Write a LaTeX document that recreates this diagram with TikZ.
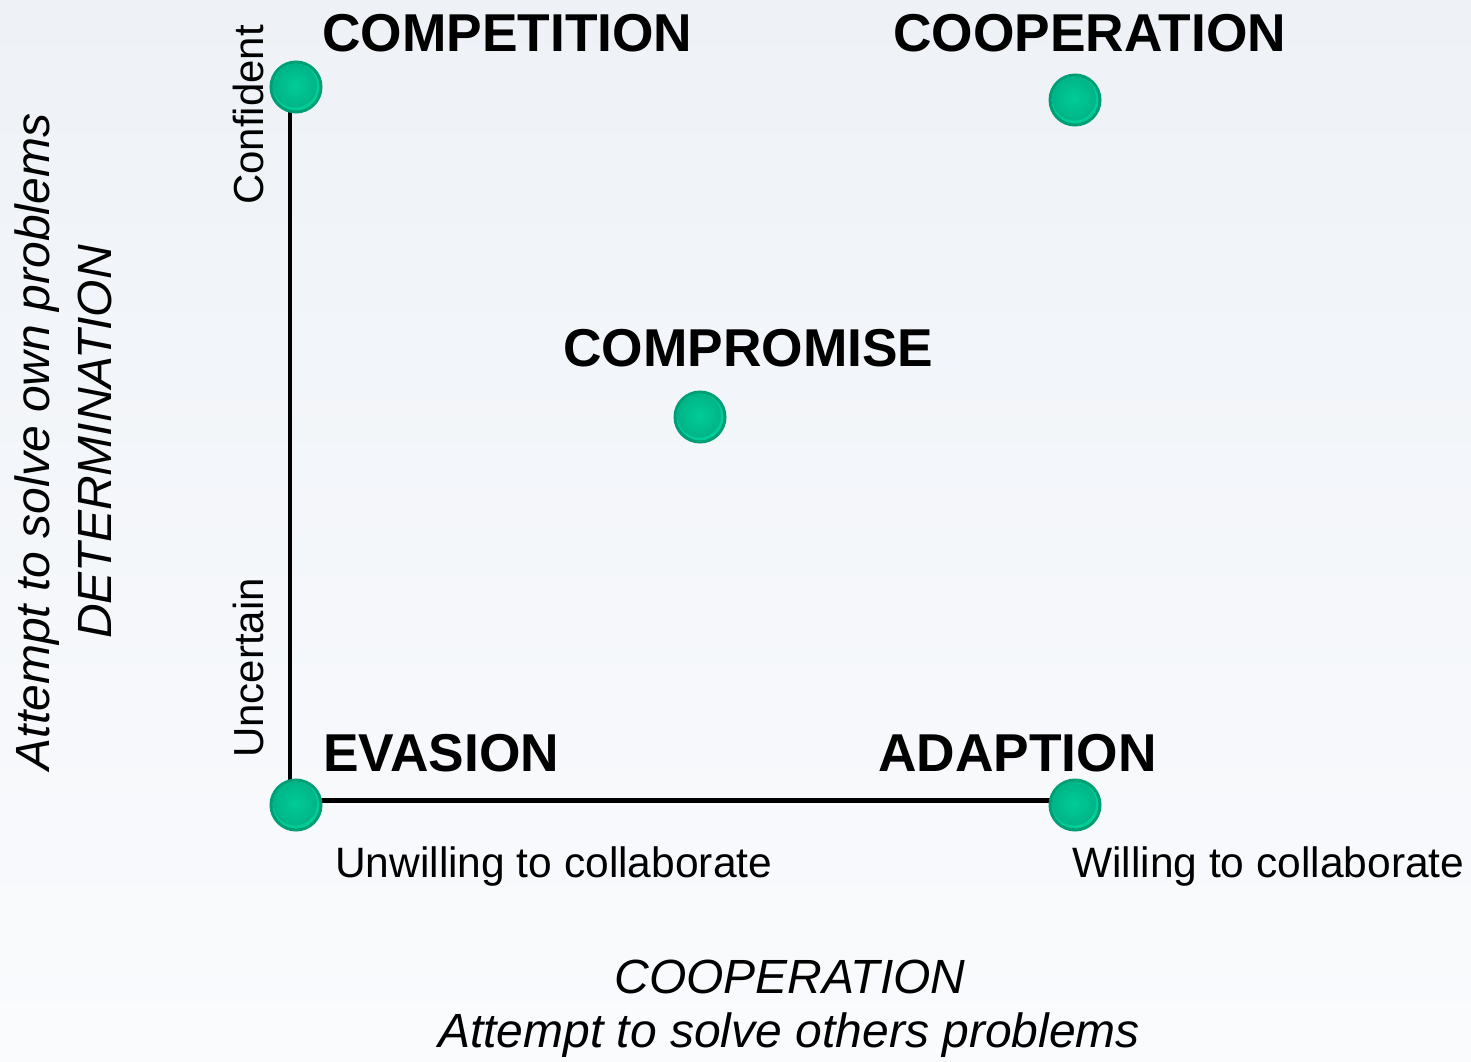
\documentclass[tikz,border=0pt]{standalone}
\usepackage{fontspec}
\setmainfont{Liberation Sans}
\definecolor{dotfill}{HTML}{00CC98}
\definecolor{dotdark}{HTML}{00B487}
\definecolor{dotedge}{HTML}{009E74}
\definecolor{skytop}{HTML}{EEF2F7}
\definecolor{skybot}{HTML}{FAFBFD}
\tikzset{
  quad/.style={anchor=base west, inner sep=0pt, font=\fontsize{53.3}{60}\selectfont\bfseries},
  endlbl/.style={anchor=base west, inner sep=0pt, font=\fontsize{42.5}{48}\selectfont},
  sidelbl/.style={rotate=90, inner sep=0pt, font=\fontsize{42}{48}\selectfont},
  axislbl/.style={inner sep=0pt, font=\fontsize{48}{56}\selectfont\itshape},
  dot/.style={circle, minimum size=50pt, inner sep=0pt, draw=dotedge, line width=3pt, fill=dotfill},
}
\newcommand{\balldot}[2]{%
  \node[dot] (#1) at (#2) {};
  \shade[inner color=dotfill, outer color=dotdark] ([xshift=-1pt,yshift=1.5pt]#1.center) circle (22pt);
}
\begin{document}
\begin{tikzpicture}[x=1pt,y=-1pt]
\useasboundingbox (0,0) rectangle (1471,1061);
\shade[top color=skytop, bottom color=skybot] (0,0) rectangle (1471,1061);
% axes
\coordinate (vtop) at (290,95);
\coordinate (corner) at (290,800);
\coordinate (hend) at (1075,800);
\draw[line width=4.5pt] (vtop) -- (corner);
\draw[white, line width=2pt] (296,804.5) -- (1075,804.5);
\draw[line width=5pt] (corner) -- (hend);
% dots
\balldot{comp}{296,87}
\balldot{coop}{1075,100}
\balldot{compr}{700,417}
\balldot{evas}{296,805}
\balldot{adap}{1075,805}
% labels
\node[quad] (lcomp) at (322,51) {COMPETITION};
\node[quad] (lcoop) at (893,51) {COOPERATION};
\node[quad] (lcompr) at (563,366) {COMPROMISE};
\node[quad] (levas) at (323,771) {EVASION};
\node[quad] (ladap) at (878,771) {ADAPTION};
\node[endlbl] (lunw) at (335,877) {Unwilling to collaborate};
\node[endlbl] (lwil) at (1072,877) {Willing to collaborate};
\node[sidelbl] (lconf) at (248,115) {Confident};
\node[sidelbl] (lunc) at (248,668) {Uncertain};
\node[axislbl, rotate=90] (lown) at (37,442) {Attempt to solve own problems};
\node[axislbl, rotate=90] (ldet) at (95,442) {DETERMINATION};
\node[axislbl] (lcoopx) at (790,977) {COOPERATION};
\node[axislbl] (lothers) at (789,1035) {Attempt to solve others problems};
\end{tikzpicture}
\end{document}
